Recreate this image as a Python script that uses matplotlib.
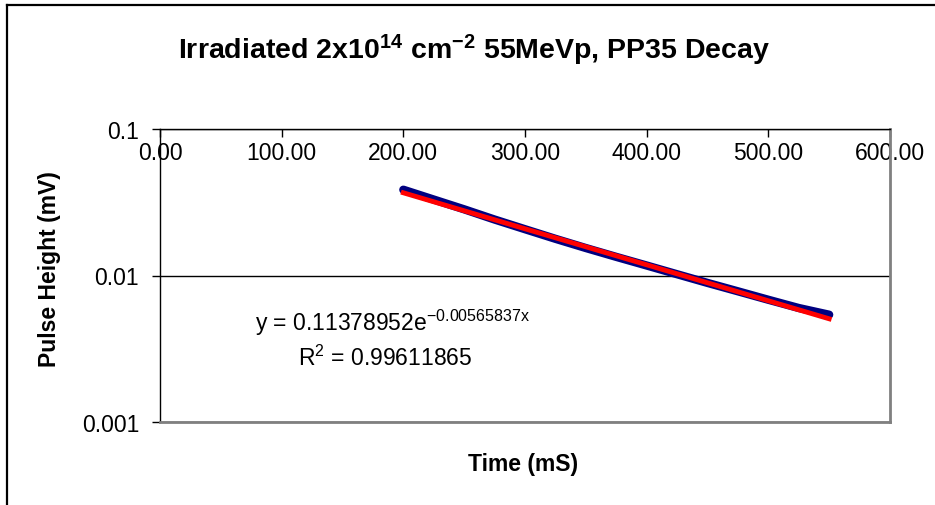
import numpy as np
import matplotlib
matplotlib.use("Agg")
import matplotlib.pyplot as plt
from matplotlib.ticker import FixedLocator, FixedFormatter, NullLocator
from matplotlib.lines import Line2D

plt.rcParams['font.family'] = ['Liberation Sans', 'DejaVu Sans']
plt.rcParams['mathtext.fontset'] = 'custom'
plt.rcParams['mathtext.rm'] = 'Liberation Sans'
plt.rcParams['mathtext.it'] = 'Liberation Sans'
plt.rcParams['mathtext.bf'] = 'Liberation Sans:bold'

time_ms = [200, 225, 250, 275, 300, 325, 350, 375, 400, 425, 450, 475, 500, 525, 550]
pulse_mv = [0.0385, 0.0330, 0.0283, 0.0241, 0.0207, 0.0178, 0.0154, 0.0134,
            0.0117, 0.0102, 0.00890, 0.00780, 0.00683, 0.00600, 0.00540]

# Exponential trendline coefficients shown on chart
fit_a = 0.11378952
fit_b = -0.00565837
r_squared = 0.99611865

x_ticks = [0, 100, 200, 300, 400, 500, 600]
y_ticks = [0.001, 0.01, 0.1]
y_tick_labels = ["0.001", "0.01", "0.1"]

W, H = 935, 506
fig = plt.figure(figsize=(W / 100, H / 100), dpi=100)
fig.patch.set_facecolor('white')

# chart area border (extends beyond image)
fig.add_artist(Line2D([7 / W, 7 / W], [0, 1 - 6 / H], color='black', lw=1.6, transform=fig.transFigure))
fig.add_artist(Line2D([7 / W, 1], [1 - 6 / H, 1 - 6 / H], color='black', lw=1.6, transform=fig.transFigure))

L, R, T, B = 160, 890, 130, 423
ax = fig.add_axes([L / W, 1 - B / H, (R - L) / W, (B - T) / H])

ax.plot(time_ms, pulse_mv, color='#000080', lw=6, solid_capstyle='round', solid_joinstyle='round', zorder=3)
xf = np.linspace(min(time_ms), max(time_ms), 100)
ax.plot(xf, fit_a * np.exp(fit_b * xf), color='#FF0000', lw=3.5, zorder=4)

ax.set_yscale('log')
ax.set_ylim(0.001, 0.1)
ax.set_xlim(0, 600)
ax.yaxis.set_major_locator(FixedLocator(y_ticks))
ax.yaxis.set_major_formatter(FixedFormatter(y_tick_labels))
ax.yaxis.set_minor_locator(NullLocator())
ax.xaxis.set_major_locator(FixedLocator(x_ticks))
ax.xaxis.set_major_formatter(FixedFormatter(["%.2f" % v for v in x_ticks]))

ax.tick_params(axis='x', top=True, bottom=False, labeltop=True, labelbottom=False,
               direction='in', length=6, width=1, pad=-25, labelsize=16.5)
ax.tick_params(axis='y', direction='out', length=6, width=1, labelsize=16.5, pad=9)

ax.grid(axis='y', which='major', color='black', lw=1)
ax.set_axisbelow(True)
for s in ['left', 'top']:
    ax.spines[s].set_color('black')
    ax.spines[s].set_linewidth(1)
for s in ['right', 'bottom']:
    ax.spines[s].set_color('#808080')
    ax.spines[s].set_linewidth(2)

fig.text(474 / W, 1 - 50 / H, r'Irradiated 2x10$^{\mathbf{14}}$ cm$^{\mathbf{-2}}$ 55MeVp, PP35 Decay',
         ha='center', va='center', fontsize=20.5, fontweight='bold')
fig.text(523 / W, 1 - 465 / H, 'Time (mS)', ha='center', va='center', fontsize=16.5, fontweight='bold')
fig.text(50 / W, 1 - 269 / H, 'Pulse Height (mV)', ha='center', va='center', rotation=90,
         fontsize=16.5, fontweight='bold')

fig.text(255 / W, 1 - 323 / H, 'y = %.8fe$^{%.8fx}$' % (fit_a, fit_b), ha='left', va='center', fontsize=16.5)
fig.text(385 / W, 1 - 358 / H, 'R$^{2}$ = %.8f' % r_squared, ha='center', va='center', fontsize=16.5)

fig.savefig('out.png', dpi=100, facecolor='white')
